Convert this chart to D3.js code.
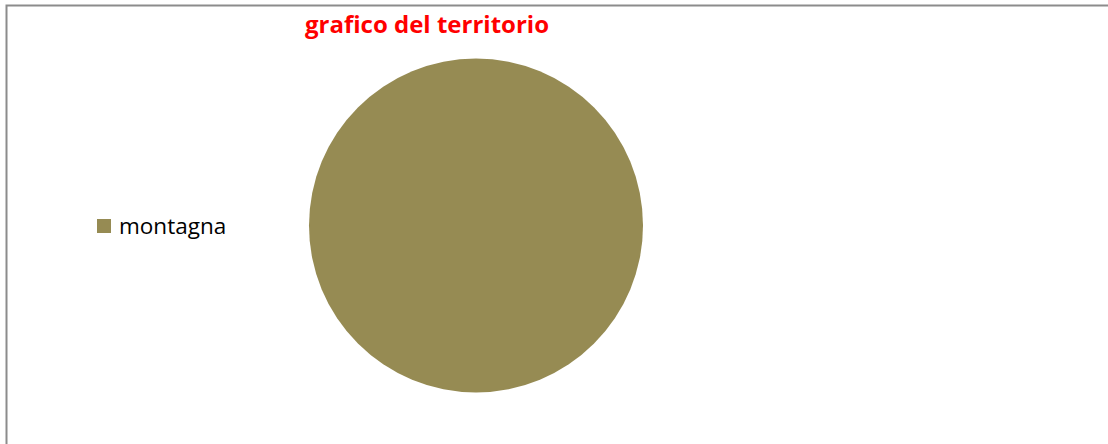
<!DOCTYPE html>
<html>
<head>
<meta charset="utf-8">
<script src="https://cdn.jsdelivr.net/npm/d3@7"></script>
<style>
  html, body { margin: 0; padding: 0; background: #fff; }
  svg { display: block; }
</style>
</head>
<body>
<svg id="chart" width="1108" height="444"></svg>
<script>
// Territory breakdown
const categories = ["montagna"];
const values = [100];
const colors = ["#968B53"];
const title = "grafico del territorio";

const svg = d3.select("#chart");
const W = 1108, H = 444;

// Chart frame
svg.append("rect")
  .attr("x", 6.5).attr("y", 5.5)
  .attr("width", W + 10).attr("height", H + 10)
  .attr("fill", "#fff")
  .attr("stroke", "#8c8c8c")
  .attr("stroke-width", 2);

// Title
svg.append("text")
  .attr("x", 427).attr("y", 33)
  .attr("text-anchor", "middle")
  .attr("font-family", "'Open Sans', Lato, sans-serif")
  .attr("font-weight", "bold")
  .attr("font-size", 24)
  .attr("fill", "#ff0000")
  .text(title);

// Pie
const cx = 476, cy = 225.5, r = 167;
const pie = d3.pie().sort(null)(values);
const arc = d3.arc().innerRadius(0).outerRadius(r);
const color = d3.scaleOrdinal().domain(categories).range(colors);

svg.append("g")
  .attr("transform", `translate(${cx},${cy})`)
  .selectAll("path")
  .data(pie)
  .join("path")
  .attr("d", arc)
  .attr("fill", (d, i) => color(categories[i]));

// Legend
const legend = svg.append("g").attr("transform", "translate(97,219)");
const items = legend.selectAll("g")
  .data(categories)
  .join("g")
  .attr("transform", (d, i) => `translate(0,${i * 26})`);
items.append("rect")
  .attr("width", 14).attr("height", 14)
  .attr("fill", d => color(d));
items.append("text")
  .attr("x", 22).attr("y", 15)
  .attr("font-family", "'Open Sans', Lato, sans-serif")
  .attr("font-size", 22.5)
  .attr("fill", "#000")
  .text(d => d);
</script>
</body>
</html>
